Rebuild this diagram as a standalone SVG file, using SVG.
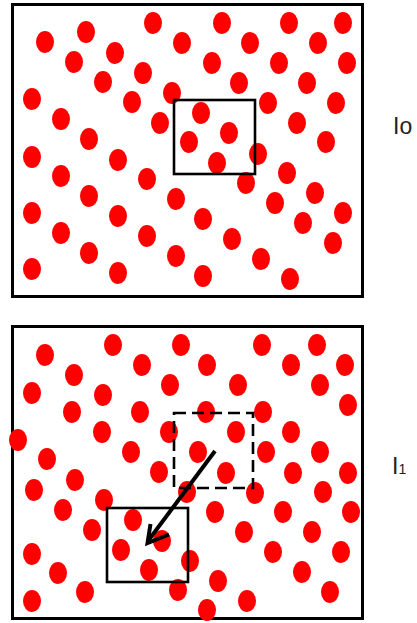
<svg xmlns="http://www.w3.org/2000/svg" width="417" height="623" viewBox="0 0 417 623">
<style>
.frame{fill:none;stroke:#000;stroke-width:3}
.box{fill:none;stroke:#000;stroke-width:2.6}
.dash{stroke-dasharray:12 6}
.d{fill:#ff0000}
.lbl{font-family:"Liberation Sans",Arial,sans-serif;font-size:23px;fill:#222}
.arrow{fill:none;stroke:#000;stroke-width:4;stroke-linejoin:miter}
</style>
<defs>
<ellipse id="dot" class="d" rx="9" ry="11"/>
</defs>
<g id="frame-I0"><rect class="frame" x="12.5" y="4.5" width="350" height="292" fill="#fff"/></g>
<g id="frame-I1"><rect class="frame" x="12.5" y="326.5" width="350" height="292" fill="#fff"/></g>
<g id="dots-I0">
<use href="#dot" x="45" y="42"/><use href="#dot" x="86" y="32"/><use href="#dot" x="153" y="23"/><use href="#dot" x="182" y="43"/>
<use href="#dot" x="74" y="62"/><use href="#dot" x="115" y="53"/><use href="#dot" x="143" y="73"/><use href="#dot" x="103" y="82"/>
<use href="#dot" x="172" y="93"/><use href="#dot" x="32" y="99"/><use href="#dot" x="132" y="102"/><use href="#dot" x="61" y="119"/>
<use href="#dot" x="160" y="123"/><use href="#dot" x="89" y="139"/><use href="#dot" x="201" y="113"/><use href="#dot" x="189" y="142"/>
<use href="#dot" x="212" y="63"/><use href="#dot" x="222" y="23"/><use href="#dot" x="289" y="23"/><use href="#dot" x="343" y="23"/>
<use href="#dot" x="250" y="43"/><use href="#dot" x="318" y="43"/><use href="#dot" x="279" y="63"/><use href="#dot" x="347" y="63"/>
<use href="#dot" x="239" y="83"/><use href="#dot" x="307" y="83"/><use href="#dot" x="268" y="103"/><use href="#dot" x="336" y="103"/>
<use href="#dot" x="229" y="133"/><use href="#dot" x="297" y="123"/><use href="#dot" x="326" y="142"/><use href="#dot" x="258" y="154"/>
<use href="#dot" x="32" y="157"/><use href="#dot" x="118" y="160"/><use href="#dot" x="61" y="176"/><use href="#dot" x="147" y="179"/>
<use href="#dot" x="89" y="196"/><use href="#dot" x="176" y="199"/><use href="#dot" x="32" y="213"/><use href="#dot" x="118" y="216"/>
<use href="#dot" x="203" y="219"/><use href="#dot" x="61" y="233"/><use href="#dot" x="147" y="236"/><use href="#dot" x="89" y="253"/>
<use href="#dot" x="176" y="256"/><use href="#dot" x="32" y="269"/><use href="#dot" x="118" y="273"/><use href="#dot" x="203" y="276"/>
<use href="#dot" x="217" y="163"/><use href="#dot" x="246" y="183"/><use href="#dot" x="287" y="173"/><use href="#dot" x="315" y="193"/>
<use href="#dot" x="275" y="203"/><use href="#dot" x="343" y="213"/><use href="#dot" x="303" y="223"/><use href="#dot" x="232" y="239"/>
<use href="#dot" x="333" y="243"/><use href="#dot" x="261" y="259"/><use href="#dot" x="290" y="279"/>
</g>
<g id="dots-I1">
<use href="#dot" x="45" y="355"/><use href="#dot" x="113" y="345"/><use href="#dot" x="181" y="345"/><use href="#dot" x="74" y="375"/>
<use href="#dot" x="142" y="365"/><use href="#dot" x="207" y="365"/><use href="#dot" x="32" y="393"/><use href="#dot" x="103" y="395"/>
<use href="#dot" x="170" y="385"/><use href="#dot" x="72" y="412"/><use href="#dot" x="140" y="412"/><use href="#dot" x="206" y="412"/>
<use href="#dot" x="18" y="440"/><use href="#dot" x="102" y="432"/><use href="#dot" x="169" y="432"/><use href="#dot" x="131" y="452"/>
<use href="#dot" x="198" y="452"/><use href="#dot" x="47" y="459"/><use href="#dot" x="159" y="472"/>
<use href="#dot" x="262" y="345"/><use href="#dot" x="317" y="345"/><use href="#dot" x="291" y="365"/><use href="#dot" x="345" y="365"/>
<use href="#dot" x="238" y="385"/><use href="#dot" x="320" y="385"/><use href="#dot" x="348" y="405"/><use href="#dot" x="263" y="412"/>
<use href="#dot" x="236" y="432"/><use href="#dot" x="291" y="432"/><use href="#dot" x="266" y="452"/><use href="#dot" x="320" y="452"/>
<use href="#dot" x="226" y="473"/><use href="#dot" x="293" y="473"/><use href="#dot" x="348" y="473"/>
<use href="#dot" x="75" y="480"/><use href="#dot" x="34" y="490"/><use href="#dot" x="104" y="500"/><use href="#dot" x="63" y="510"/>
<use href="#dot" x="187" y="492"/><use href="#dot" x="92" y="530"/><use href="#dot" x="133" y="520"/><use href="#dot" x="32" y="554"/>
<use href="#dot" x="121" y="550"/><use href="#dot" x="162" y="541"/><use href="#dot" x="58" y="573"/><use href="#dot" x="149" y="570"/>
<use href="#dot" x="190" y="561"/><use href="#dot" x="85" y="592"/><use href="#dot" x="32" y="601"/><use href="#dot" x="178" y="590"/>
<use href="#dot" x="207" y="610"/><use href="#dot" x="255" y="493"/><use href="#dot" x="323" y="492"/><use href="#dot" x="215" y="512"/>
<use href="#dot" x="283" y="512"/><use href="#dot" x="351" y="512"/><use href="#dot" x="244" y="532"/><use href="#dot" x="312" y="532"/>
<use href="#dot" x="273" y="552"/><use href="#dot" x="341" y="552"/><use href="#dot" x="218" y="581"/><use href="#dot" x="302" y="572"/>
<use href="#dot" x="330" y="592"/><use href="#dot" x="247" y="601"/>
</g>
<g id="window-I0"><rect class="box" x="174" y="100" width="81" height="74"/></g>
<g id="window-I1-old"><rect class="box dash" x="174" y="413" width="79" height="75"/></g>
<g id="window-I1-new"><rect class="box" x="107" y="508" width="81" height="74"/></g>
<g id="connectors">
<path class="arrow" d="M215,451 L148,541"/>
<path class="arrow" d="M150.5,524 L147.5,543 L169,534.5"/>
</g>
<g id="label-I0"><text class="lbl" x="393" y="134">Io</text></g>
<g id="label-I1"><text class="lbl" x="392" y="474">I<tspan font-size="14">1</tspan></text></g>
</svg>
